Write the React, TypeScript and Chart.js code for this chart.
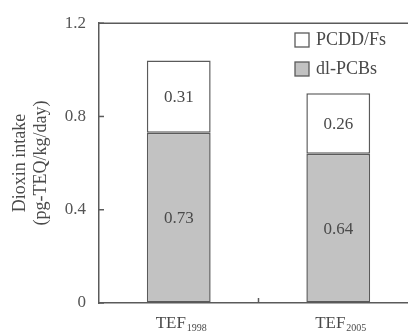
import { useEffect, useRef } from 'react';
import { Chart, registerables } from 'chart.js';

Chart.register(...registerables);

const categoryPrefix = 'TEF';
const categoryYears = ['1998', '2005'];
const dlPCBs = [0.73, 0.64];
const pcddFs = [0.31, 0.26];
const seriesNames = ['dl-PCBs', 'PCDD/Fs'];
const legendOrder = ['PCDD/Fs', 'dl-PCBs'];
const yTickValues = [0, 0.4, 0.8, 1.2];
const yTitleLines = ['Dioxin intake', '(pg-TEQ/kg/day)'];

const FONT = '"Liberation Serif", "Times New Roman", serif';
const AXIS = '#5a5a5a';
const TEXT = '#4a4a4a';
const GRAY = '#c2c2c2';

const overlay = {
  id: 'overlay',
  afterDraw(chart: any) {
    const ctx = chart.ctx;
    const { left, right, top, bottom } = chart.chartArea;
    const xs = chart.scales.x;
    const ys = chart.scales.y;
    ctx.save();
    ctx.strokeStyle = AXIS;
    ctx.lineWidth = 1.5;
    const line = (x1: number, y1: number, x2: number, y2: number) => {
      ctx.beginPath();
      ctx.moveTo(x1, y1);
      ctx.lineTo(x2, y2);
      ctx.stroke();
    };
    line(left, top, right, top);
    yTickValues.forEach((v) => {
      const y = ys.getPixelForValue(v);
      line(left, y, left + 5, y);
    });
    for (let i = 0; i < categoryYears.length - 1; i++) {
      const x = (xs.getPixelForValue(i) + xs.getPixelForValue(i + 1)) / 2;
      line(x, bottom, x, bottom - 5);
    }

    // value labels
    ctx.fillStyle = TEXT;
    ctx.font = `17px ${FONT}`;
    ctx.textAlign = 'center';
    ctx.textBaseline = 'middle';
    chart.data.datasets.forEach((ds: any, di: number) => {
      const meta = chart.getDatasetMeta(di);
      meta.data.forEach((bar: any, i: number) => {
        const p = bar.getProps(['x', 'y', 'base'], true);
        ctx.fillText(ds.data[i].toFixed(2), p.x, (p.y + p.base) / 2 + 1);
      });
    });

    // x labels with subscripts
    categoryYears.forEach((yr, i) => {
      const cx = xs.getPixelForValue(i) + 2;
      ctx.font = `17px ${FONT}`;
      const w1 = ctx.measureText(categoryPrefix).width;
      ctx.font = `10px ${FONT}`;
      const w2 = ctx.measureText(yr).width;
      const x0 = cx - (w1 + w2) / 2;
      ctx.textAlign = 'left';
      ctx.textBaseline = 'alphabetic';
      ctx.font = `17px ${FONT}`;
      ctx.fillText(categoryPrefix, x0, 328);
      ctx.font = `10px ${FONT}`;
      ctx.fillText(yr, x0 + w1 + 1, 331);
    });

    // legend
    ctx.font = `18px ${FONT}`;
    ctx.textAlign = 'left';
    ctx.textBaseline = 'middle';
    legendOrder.forEach((name, k) => {
      const di = seriesNames.indexOf(name);
      const ds = chart.data.datasets[di];
      const bx = 295;
      const by = 33 + k * 29;
      ctx.fillStyle = ds.backgroundColor;
      ctx.fillRect(bx, by, 14, 14);
      ctx.lineWidth = 1.3;
      ctx.strokeStyle = AXIS;
      ctx.strokeRect(bx, by, 14, 14);
      ctx.fillStyle = TEXT;
      ctx.fillText(name, 316, by + 7);
    });

    // y title
    ctx.fillStyle = TEXT;
    ctx.font = `18px ${FONT}`;
    ctx.textAlign = 'center';
    ctx.textBaseline = 'middle';
    const cy = (top + bottom) / 2;
    [20, 41].forEach((x, k) => {
      ctx.save();
      ctx.translate(x, cy);
      ctx.rotate(-Math.PI / 2);
      ctx.fillText(yTitleLines[k], 0, 0);
      ctx.restore();
    });
    ctx.restore();
  },
};

export default function App() {
  const ref = useRef<HTMLCanvasElement>(null);
  useEffect(() => {
    if (!ref.current) return;
    const chart = new Chart(ref.current, {
      type: 'bar',
      data: {
        labels: categoryYears.map((y) => categoryPrefix + y),
        datasets: [
          {
            label: seriesNames[0],
            data: dlPCBs,
            backgroundColor: GRAY,
            borderColor: AXIS,
            borderWidth: 1.5,
            borderSkipped: false,
            barPercentage: 0.8,
            categoryPercentage: 0.5,
          },
          {
            label: seriesNames[1],
            data: pcddFs,
            backgroundColor: '#ffffff',
            borderColor: AXIS,
            borderWidth: 1.5,
            borderSkipped: false,
            barPercentage: 0.8,
            categoryPercentage: 0.5,
          },
        ],
      },
      options: {
        responsive: false,
        animation: false,
        layout: { padding: { left: 0, top: 23, right: 2, bottom: 0 } },
        plugins: { legend: { display: false }, tooltip: { enabled: false } },
        scales: {
          x: {
            stacked: true,
            grid: { display: false },
            border: { display: true, color: AXIS, width: 1.5 },
            ticks: { display: false },
            afterFit: (s: any) => {
              s.height = 33;
            },
          },
          y: {
            stacked: true,
            min: 0,
            max: 1.2,
            afterBuildTicks: (s: any) => {
              s.ticks = yTickValues.map((v) => ({ value: v }));
            },
            grid: { display: true, drawOnChartArea: false, drawTicks: false },
            border: { display: true, color: AXIS, width: 1.5 },
            ticks: {
              padding: 13,
              color: '#555',
              font: { family: FONT, size: 17 },
              callback: (v: any) => (Number(v) === 0 ? '0' : Number(v).toFixed(1)),
            },
            afterFit: (s: any) => {
              s.width = 99;
            },
          },
        },
      },
      plugins: [overlay],
    });
    return () => chart.destroy();
  }, []);
  return (
    <div style={{ position: 'fixed', left: 0, top: 0, width: 408, height: 336, overflow: 'hidden', background: '#fff' }}>
      <canvas ref={ref} width={420} height={336} style={{ display: 'block' }} />
    </div>
  );
}
